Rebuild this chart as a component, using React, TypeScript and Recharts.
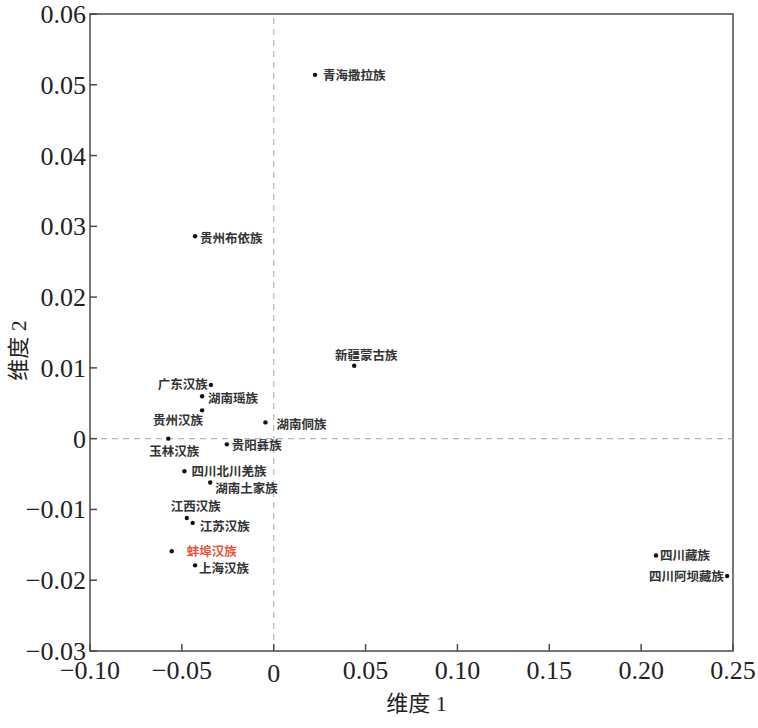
import React from 'react'
import {
  ScatterChart, Scatter, XAxis, YAxis, ReferenceLine, ReferenceArea,
} from 'recharts'

// populations and their MDS coordinates
const NAMES = [
  '青海撒拉族', '贵州布依族', '新疆蒙古族', '广东汉族', '湖南瑶族', '贵州汉族',
  '湖南侗族', '玉林汉族', '贵阳彝族', '四川北川羌族', '湖南土家族', '江西汉族',
  '江苏汉族', '蚌埠汉族', '上海汉族', '四川藏族', '四川阿坝藏族',
]
const DIM1 = [
  0.0225, -0.0428, 0.0438, -0.0342, -0.0390, -0.0390,
  -0.0045, -0.0574, -0.0255, -0.0486, -0.0346, -0.0473,
  -0.0441, -0.0555, -0.0428, 0.2081, 0.2468,
]
const DIM2 = [
  0.0514, 0.0286, 0.0103, 0.0076, 0.0060, 0.0040,
  0.0023, 0.0000, -0.0008, -0.0046, -0.0062, -0.0112,
  -0.0119, -0.0159, -0.0179, -0.0165, -0.0194,
]
const X_TICKS = [-0.1, -0.05, 0, 0.05, 0.1, 0.15, 0.2, 0.25]
const Y_TICKS = [-0.03, -0.02, -0.01, 0, 0.01, 0.02, 0.03, 0.04, 0.05, 0.06]
const HIGHLIGHT = '蚌埠汉族'

// where each label sits relative to its dot
const LABEL_POS: Record<string, { dx: number; dy: number; anchor: 'start' | 'middle' | 'end' }> = {
  '青海撒拉族': { dx: 8, dy: 1, anchor: 'start' },
  '贵州布依族': { dx: 5, dy: 2, anchor: 'start' },
  '新疆蒙古族': { dx: 12, dy: -10, anchor: 'middle' },
  '广东汉族': { dx: -3, dy: 0, anchor: 'end' },
  '湖南瑶族': { dx: 6, dy: 2, anchor: 'start' },
  '贵州汉族': { dx: 1, dy: 10, anchor: 'end' },
  '湖南侗族': { dx: 11, dy: 2, anchor: 'start' },
  '玉林汉族': { dx: 6, dy: 13, anchor: 'middle' },
  '贵阳彝族': { dx: 5, dy: 1, anchor: 'start' },
  '四川北川羌族': { dx: 7, dy: 0, anchor: 'start' },
  '湖南土家族': { dx: 5, dy: 6, anchor: 'start' },
  '江西汉族': { dx: 9, dy: -11, anchor: 'middle' },
  '江苏汉族': { dx: 7, dy: 4, anchor: 'start' },
  '蚌埠汉族': { dx: 15, dy: 0, anchor: 'start' },
  '上海汉族': { dx: 4, dy: 3, anchor: 'start' },
  '四川藏族': { dx: 4, dy: 0, anchor: 'start' },
  '四川阿坝藏族': { dx: -3, dy: 1, anchor: 'end' },
}

const points = NAMES.map((name, i) => ({ name, x: DIM1[i], y: DIM2[i] }))

const AXIS_COLOR = '#4a4a4a'
const SERIF = '"Liberation Serif", "DejaVu Serif", "Noto Sans CJK SC", serif'
const CJK = '"Noto Sans CJK SC", sans-serif'

function fmt(v: number) {
  if (Math.abs(v) < 1e-9) return '0'
  const s = Math.abs(v).toFixed(2)
  return v < 0 ? `\u2212${s}` : s
}

function XTick(props: any) {
  const { x, y, payload } = props
  const zero = Math.abs(payload.value) < 1e-9
  return (
    <g>
      <line x1={x} y1={y} x2={x} y2={y - 7} stroke={AXIS_COLOR} strokeWidth={1.5} />
      <text x={x} y={y + 28 + (zero ? 3 : 0)} textAnchor="middle" fontFamily={SERIF} fontSize={26} fill="#222">
        {fmt(payload.value)}
      </text>
    </g>
  )
}

function YTick(props: any) {
  const { x, y, payload } = props
  return (
    <g>
      <line x1={x} y1={y} x2={x + 7} y2={y} stroke={AXIS_COLOR} strokeWidth={1.5} />
      <text x={x - 4} y={y + 9} textAnchor="end" fontFamily={SERIF} fontSize={26} fill="#222">
        {fmt(payload.value)}
      </text>
    </g>
  )
}

function PointShape(props: any) {
  const { cx, cy, payload } = props
  const pos = LABEL_POS[payload.name] ?? { dx: 5, dy: 0, anchor: 'start' }
  const red = payload.name === HIGHLIGHT
  return (
    <g>
      <circle cx={cx} cy={cy} r={2.2} fill="#111" />
      <text
        x={cx + pos.dx}
        y={cy + pos.dy}
        dy="0.35em"
        textAnchor={pos.anchor}
        fontFamily={CJK}
        fontWeight={700}
        fontSize={12.5}
        fill={red ? '#e5553d' : '#333'}
      >
        {payload.name}
      </text>
    </g>
  )
}

export default function App() {
  return (
    <div style={{ position: 'absolute', left: 0, top: 0, width: 758, height: 728, background: '#fff' }}>
      <ScatterChart width={758} height={728} margin={{ top: 14, right: 25, bottom: 0, left: 0 }}>
        <XAxis
          type="number"
          dataKey="x"
          domain={[-0.1, 0.25]}
          ticks={X_TICKS}
          allowDataOverflow
          height={77}
          tickSize={0}
          tickMargin={0}
          tickLine={false}
          axisLine={false}
          tick={<XTick />}
          interval={0}
          label={{
            content: (p: any) => {
              const vb = p.viewBox
              return (
                <text x={vb.x + vb.width / 2 + 5} y={vb.y + 60} textAnchor="middle" fontFamily={SERIF} fontSize={22} fill="#222">
                  维度 1
                </text>
              )
            },
          }}
        />
        <YAxis
          type="number"
          dataKey="y"
          domain={[-0.03, 0.06]}
          ticks={Y_TICKS}
          allowDataOverflow
          width={90}
          tickSize={0}
          tickMargin={0}
          tickLine={false}
          axisLine={false}
          tick={<YTick />}
          interval={0}
          label={{
            content: (p: any) => {
              const vb = p.viewBox
              const cy = vb.y + vb.height / 2 + 18
              return (
                <text x={18} y={cy} transform={`rotate(-90 18 ${cy})`} dy="0.35em" textAnchor="middle" fontFamily={SERIF} fontSize={22} fill="#222">
                  维度 2
                </text>
              )
            },
          }}
        />
        <ReferenceLine x={0} stroke="#b5b5b5" strokeDasharray="6 5" strokeWidth={1.2} />
        <ReferenceLine y={0} stroke="#b5b5b5" strokeDasharray="6 5" strokeWidth={1.2} />
        <ReferenceArea
          x1={-0.1}
          x2={0.25}
          y1={-0.03}
          y2={0.06}
          fill="none"
          fillOpacity={0}
          stroke={AXIS_COLOR}
          strokeWidth={1.5}
        />
        <Scatter data={points} shape={<PointShape />} isAnimationActive={false} />
      </ScatterChart>
    </div>
  )
}
